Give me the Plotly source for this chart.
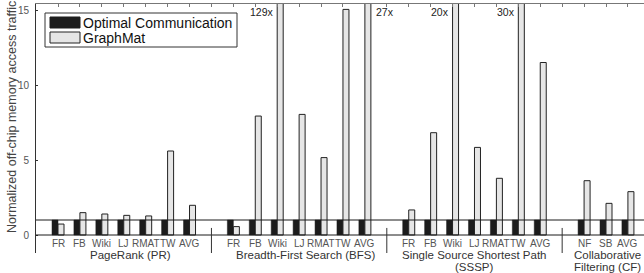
import plotly.graph_objects as go

# ---- data ----
groups_line1 = ["PageRank (PR)", "Breadth-First Search (BFS)", "Single Source Shortest Path", "Collaborative"]
groups_line2 = ["", "", "(SSSP)", "Filtering (CF)"]
pr_cats = ["FR", "FB", "Wiki", "LJ", "RMAT", "TW", "AVG"]
bfs_cats = ["FR", "FB", "Wiki", "LJ", "RMAT", "TW", "AVG"]
sssp_cats = ["FR", "FB", "Wiki", "LJ", "RMAT", "TW", "AVG"]
cf_cats = ["NF", "SB", "AVG"]

pr_graphmat = [0.73, 1.49, 1.40, 1.31, 1.27, 5.60, 1.98]
bfs_graphmat = [0.56, 7.93, 129, 8.04, 5.16, 15.04, 27]
sssp_graphmat = [1.67, 6.82, 20, 5.84, 3.78, 30, 11.5]
cf_graphmat = [3.62, 2.11, 2.89]
optimal_value = 1.0

overflow_labels = ["129x", "27x", "20x", "30x"]

# ---- layout helpers ----
W, H = 644, 273
ML, MR, MT, MB = 36, 0, 4, 20
PW, PH = W - ML - MR, H - MT - MB
SLOT_PX = 21.92
X0 = -22 / SLOT_PX
XR = [X0, X0 + PW / SLOT_PX]
YR = [15.4 - PH / 15.0, 15.4]

def px(x):  # pixel -> paper x
    return (x - ML) / PW

def py(y):  # pixel -> paper y
    return (H - MB - y) / PH

# slot positions (separators take one slot)
all_cats = []
all_vals = []
slots = []
seps = []
slot = 0
for gi, (cats, vals) in enumerate([(pr_cats, pr_graphmat), (bfs_cats, bfs_graphmat),
                                   (sssp_cats, sssp_graphmat), (cf_cats, cf_graphmat)]):
    for c, v in zip(cats, vals):
        all_cats.append(c)
        all_vals.append(v)
        slots.append(slot)
        slot += 1
    if gi < 3:
        seps.append(slot)
        slot += 1

BW = 6 / SLOT_PX

fig = go.Figure()
fig.add_trace(go.Bar(
    x=slots, y=[optimal_value] * len(slots), name="Optimal Communication",
    width=BW, offset=-BW, marker=dict(color="#1c1c1c", line=dict(color="#1c1c1c", width=0.5)),
    showlegend=False))
fig.add_trace(go.Bar(
    x=slots, y=all_vals, name="GraphMat",
    width=BW, offset=0, marker=dict(color="#e6e6e6", line=dict(color="#222222", width=1)),
    showlegend=False))
# invisible trace to drive the top axis
fig.add_trace(go.Scatter(x=[XR[0]], y=[0], xaxis="x2", mode="markers",
                         marker=dict(opacity=0), showlegend=False, hoverinfo="skip"))

shapes = []
for yv in (0, optimal_value):
    shapes.append(dict(type="line", xref="paper", yref="y", x0=0, x1=1, y0=yv, y1=yv,
                       line=dict(color="#1a1a1a", width=1), layer="above"))
for s in seps:
    shapes.append(dict(type="line", xref="x", yref="y", x0=s, x1=s, y0=YR[0], y1=0.47,
                       line=dict(color="#333", width=1)))

annotations = []
for s, c in zip(slots, all_cats):
    annotations.append(dict(x=s, y=-0.55, xref="x", yref="y", text=c, showarrow=False,
                            font=dict(size=10, color="#555"), xanchor="center", yanchor="middle"))
group_x = [3.31, 11.31, 19.0, 25.05]
for gx, l1, l2 in zip(group_x, groups_line1, groups_line2):
    annotations.append(dict(x=gx, y=py(255.5), xref="x", yref="paper", text=l1, showarrow=False,
                            font=dict(size=11.5, color="#333"), xanchor="center", yanchor="middle"))
    if l2:
        annotations.append(dict(x=gx, y=py(266.5), xref="x", yref="paper", text=l2, showarrow=False,
                                font=dict(size=11.5, color="#333"), xanchor="center", yanchor="middle"))
ov_idx = [i for i, v in enumerate(all_vals) if v > YR[1]]
ov_side = ["left", "right", "left", "left"]
for i, lab, side in zip(ov_idx, overflow_labels, ov_side):
    if side == "left":
        annotations.append(dict(x=slots[i] - 0.05, y=py(12), xref="x", yref="paper", text=lab,
                                showarrow=False, xanchor="right", yanchor="middle",
                                font=dict(size=10.5, color="#222")))
    else:
        annotations.append(dict(x=slots[i] + BW + 0.15, y=py(12), xref="x", yref="paper", text=lab,
                                showarrow=False, xanchor="left", yanchor="middle",
                                font=dict(size=10.5, color="#222")))

# y-axis title
annotations.append(dict(x=px(12), y=py(117), xref="paper", yref="paper",
                        text="Normalized off-chip memory access traffic", textangle=-90,
                        showarrow=False, xanchor="center", yanchor="middle",
                        font=dict(size=12.5, color="#444")))

# legend (drawn)
shapes.append(dict(type="rect", xref="paper", yref="paper", x0=px(45), x1=px(237), y0=py(13), y1=py(47),
                   line=dict(color="#333", width=1), fillcolor="white", layer="above"))
shapes.append(dict(type="rect", xref="paper", yref="paper", x0=px(50), x1=px(80), y0=py(17), y1=py(28),
                   line=dict(color="#1c1c1c", width=1), fillcolor="#1c1c1c", layer="above"))
shapes.append(dict(type="rect", xref="paper", yref="paper", x0=px(50), x1=px(80), y0=py(32), y1=py(43),
                   line=dict(color="#222", width=1), fillcolor="#e6e6e6", layer="above"))
annotations.append(dict(x=px(81), y=py(22.5), xref="paper", yref="paper", text="Optimal Communication",
                        showarrow=False, xanchor="left", yanchor="middle", font=dict(size=14, color="#111")))
annotations.append(dict(x=px(81), y=py(37.5), xref="paper", yref="paper", text="GraphMat",
                        showarrow=False, xanchor="left", yanchor="middle", font=dict(size=14, color="#111")))

fig.update_layout(
    width=W, height=H,
    margin=dict(l=ML, r=MR, t=MT, b=MB, pad=0, autoexpand=False),
    plot_bgcolor="white", paper_bgcolor="white",
    font=dict(family="Liberation Sans, Arial, sans-serif"),
    barmode="overlay",
    xaxis=dict(range=XR, showgrid=False, zeroline=False, showline=False, showticklabels=False,
               ticks="", automargin=False, fixedrange=True),
    xaxis2=dict(range=XR, overlaying="x", side="top", showgrid=False, zeroline=False,
                showline=True, linecolor="#777", linewidth=1, ticks="inside", ticklen=3,
                tickcolor="#777", tickvals=slots + seps, showticklabels=False, automargin=False),
    yaxis=dict(range=YR, showgrid=False, zeroline=False, showline=True, linecolor="#333", linewidth=1,
               tickvals=[0, 5, 10, 15], ticks="inside", ticklen=2, tickcolor="#333",
               tickfont=dict(size=10, color="#555"), ticklabelstandoff=4, automargin=False),
    shapes=shapes,
    annotations=annotations,
)

fig.write_html("out.html", config={"displayModeBar": False},
               post_script="document.body.style.margin='0px';document.body.style.overflow='hidden';")
